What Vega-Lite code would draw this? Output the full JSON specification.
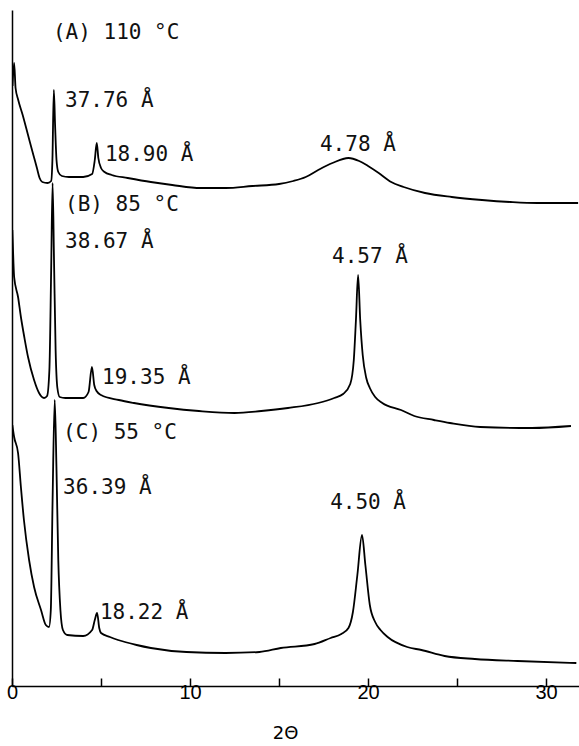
{
  "$schema": "https://vega.github.io/schema/vega-lite/v6.json",
  "width": 567,
  "height": 676,
  "autosize": {"type": "none"},
  "padding": {"left": 12, "top": 10, "right": 0, "bottom": 60},
  "background": "white",
  "config": {"view": {"stroke": null}},
  "datasets": {
    "traces": [
      {"s": "A", "t": 0.03, "y": 600}, {"s": "A", "t": 0.12, "y": 623}, {"s": "A", "t": 0.2, "y": 598}, {"s": "A", "t": 0.35, "y": 586},
      {"s": "A", "t": 0.6, "y": 571}, {"s": "A", "t": 0.9, "y": 551}, {"s": "A", "t": 1.2, "y": 531}, {"s": "A", "t": 1.4, "y": 518},
      {"s": "A", "t": 1.55, "y": 508}, {"s": "A", "t": 1.7, "y": 504}, {"s": "A", "t": 2.0, "y": 503}, {"s": "A", "t": 2.2, "y": 505},
      {"s": "A", "t": 2.27, "y": 526}, {"s": "A", "t": 2.35, "y": 596}, {"s": "A", "t": 2.42, "y": 561}, {"s": "A", "t": 2.5, "y": 526},
      {"s": "A", "t": 2.6, "y": 514}, {"s": "A", "t": 2.8, "y": 510}, {"s": "A", "t": 3.2, "y": 509}, {"s": "A", "t": 4.0, "y": 509},
      {"s": "A", "t": 4.5, "y": 512}, {"s": "A", "t": 4.65, "y": 526}, {"s": "A", "t": 4.76, "y": 543}, {"s": "A", "t": 4.85, "y": 528},
      {"s": "A", "t": 5.0, "y": 518}, {"s": "A", "t": 5.2, "y": 514}, {"s": "A", "t": 5.6, "y": 511}, {"s": "A", "t": 6.5, "y": 508},
      {"s": "A", "t": 7.8, "y": 504}, {"s": "A", "t": 9.0, "y": 501}, {"s": "A", "t": 10.6, "y": 498}, {"s": "A", "t": 12.0, "y": 498},
      {"s": "A", "t": 13.5, "y": 500}, {"s": "A", "t": 15.0, "y": 502}, {"s": "A", "t": 15.8, "y": 505}, {"s": "A", "t": 16.5, "y": 509},
      {"s": "A", "t": 17.2, "y": 516}, {"s": "A", "t": 18.0, "y": 523}, {"s": "A", "t": 18.9, "y": 528}, {"s": "A", "t": 19.5, "y": 525},
      {"s": "A", "t": 20.0, "y": 520}, {"s": "A", "t": 20.6, "y": 513}, {"s": "A", "t": 21.3, "y": 504}, {"s": "A", "t": 22.0, "y": 499},
      {"s": "A", "t": 23.2, "y": 493}, {"s": "A", "t": 24.7, "y": 489}, {"s": "A", "t": 26.4, "y": 486}, {"s": "A", "t": 28.0, "y": 484},
      {"s": "A", "t": 29.5, "y": 483}, {"s": "A", "t": 31.8, "y": 483},

      {"s": "B", "t": 0.02, "y": 456}, {"s": "B", "t": 0.08, "y": 424}, {"s": "B", "t": 0.12, "y": 409}, {"s": "B", "t": 0.34, "y": 389},
      {"s": "B", "t": 0.5, "y": 369}, {"s": "B", "t": 0.7, "y": 348}, {"s": "B", "t": 0.9, "y": 329}, {"s": "B", "t": 1.24, "y": 306},
      {"s": "B", "t": 1.52, "y": 293}, {"s": "B", "t": 1.8, "y": 288}, {"s": "B", "t": 1.97, "y": 290}, {"s": "B", "t": 2.1, "y": 316},
      {"s": "B", "t": 2.2, "y": 416}, {"s": "B", "t": 2.28, "y": 503}, {"s": "B", "t": 2.36, "y": 426}, {"s": "B", "t": 2.45, "y": 336},
      {"s": "B", "t": 2.55, "y": 298}, {"s": "B", "t": 2.68, "y": 289}, {"s": "B", "t": 3.0, "y": 288}, {"s": "B", "t": 4.0, "y": 288},
      {"s": "B", "t": 4.3, "y": 294}, {"s": "B", "t": 4.49, "y": 319}, {"s": "B", "t": 4.62, "y": 301}, {"s": "B", "t": 4.75, "y": 295},
      {"s": "B", "t": 5.0, "y": 291}, {"s": "B", "t": 6.0, "y": 286}, {"s": "B", "t": 6.85, "y": 283}, {"s": "B", "t": 8.8, "y": 278},
      {"s": "B", "t": 10.5, "y": 275}, {"s": "B", "t": 12.5, "y": 273}, {"s": "B", "t": 14.0, "y": 275}, {"s": "B", "t": 15.5, "y": 278},
      {"s": "B", "t": 17.2, "y": 283}, {"s": "B", "t": 18.1, "y": 288}, {"s": "B", "t": 18.6, "y": 292}, {"s": "B", "t": 19.0, "y": 302},
      {"s": "B", "t": 19.2, "y": 326}, {"s": "B", "t": 19.32, "y": 366}, {"s": "B", "t": 19.44, "y": 411}, {"s": "B", "t": 19.56, "y": 366},
      {"s": "B", "t": 19.7, "y": 331}, {"s": "B", "t": 19.9, "y": 308}, {"s": "B", "t": 20.1, "y": 298}, {"s": "B", "t": 20.4, "y": 289},
      {"s": "B", "t": 20.8, "y": 283}, {"s": "B", "t": 21.85, "y": 276}, {"s": "B", "t": 22.6, "y": 270}, {"s": "B", "t": 23.7, "y": 266},
      {"s": "B", "t": 24.6, "y": 263}, {"s": "B", "t": 26.3, "y": 259}, {"s": "B", "t": 29.2, "y": 258}, {"s": "B", "t": 31.4, "y": 260},

      {"s": "C", "t": 0.02, "y": 261}, {"s": "C", "t": 0.12, "y": 249}, {"s": "C", "t": 0.34, "y": 233}, {"s": "C", "t": 0.5, "y": 199},
      {"s": "C", "t": 0.67, "y": 166}, {"s": "C", "t": 0.96, "y": 126}, {"s": "C", "t": 1.24, "y": 99}, {"s": "C", "t": 1.63, "y": 76},
      {"s": "C", "t": 1.9, "y": 61}, {"s": "C", "t": 2.08, "y": 59}, {"s": "C", "t": 2.18, "y": 76}, {"s": "C", "t": 2.28, "y": 186},
      {"s": "C", "t": 2.4, "y": 286}, {"s": "C", "t": 2.5, "y": 216}, {"s": "C", "t": 2.6, "y": 126}, {"s": "C", "t": 2.72, "y": 76},
      {"s": "C", "t": 2.86, "y": 56}, {"s": "C", "t": 3.1, "y": 51}, {"s": "C", "t": 4.0, "y": 50}, {"s": "C", "t": 4.5, "y": 56},
      {"s": "C", "t": 4.65, "y": 66}, {"s": "C", "t": 4.78, "y": 73}, {"s": "C", "t": 4.9, "y": 58}, {"s": "C", "t": 5.0, "y": 53},
      {"s": "C", "t": 5.5, "y": 49}, {"s": "C", "t": 5.96, "y": 46}, {"s": "C", "t": 7.0, "y": 41}, {"s": "C", "t": 7.8, "y": 38},
      {"s": "C", "t": 9.8, "y": 34}, {"s": "C", "t": 12.0, "y": 33}, {"s": "C", "t": 13.9, "y": 34}, {"s": "C", "t": 15.1, "y": 38},
      {"s": "C", "t": 17.0, "y": 42}, {"s": "C", "t": 17.9, "y": 48}, {"s": "C", "t": 18.5, "y": 52}, {"s": "C", "t": 18.9, "y": 58},
      {"s": "C", "t": 19.15, "y": 74}, {"s": "C", "t": 19.4, "y": 111}, {"s": "C", "t": 19.66, "y": 151}, {"s": "C", "t": 19.85, "y": 121},
      {"s": "C", "t": 20.1, "y": 81}, {"s": "C", "t": 20.4, "y": 64}, {"s": "C", "t": 20.7, "y": 56}, {"s": "C", "t": 21.1, "y": 49},
      {"s": "C", "t": 22.2, "y": 39}, {"s": "C", "t": 23.0, "y": 36}, {"s": "C", "t": 24.3, "y": 30}, {"s": "C", "t": 26.0, "y": 27},
      {"s": "C", "t": 28.4, "y": 25}, {"s": "C", "t": 31.7, "y": 23}
    ],
    "labels": [
      {"t": 2.3, "y": 653, "text": "(A) 110 °C"},
      {"t": 2.98, "y": 585, "text": "37.76 Å"},
      {"t": 5.22, "y": 531, "text": "18.90 Å"},
      {"t": 2.98, "y": 481, "text": "(B) 85 °C"},
      {"t": 2.98, "y": 444, "text": "38.67 Å"},
      {"t": 17.3, "y": 541, "text": "4.78 Å"},
      {"t": 17.98, "y": 429, "text": "4.57 Å"},
      {"t": 5.06, "y": 308, "text": "19.35 Å"},
      {"t": 2.87, "y": 253, "text": "(C) 55 °C"},
      {"t": 2.87, "y": 198, "text": "36.39 Å"},
      {"t": 4.94, "y": 73, "text": "18.22 Å"},
      {"t": 17.87, "y": 183, "text": "4.50 Å"}
    ]
  },
  "layer": [
    {
      "data": {"name": "traces"},
      "mark": {"type": "line", "color": "black", "strokeWidth": 1.8, "clip": true, "interpolate": "monotone"},
      "encoding": {
        "x": {
          "field": "t", "type": "quantitative",
          "scale": {"domain": [0, 31.85], "nice": false, "zero": false},
          "axis": {
            "values": [0, 5, 10, 15, 20, 25, 30],
            "labelExpr": "datum.value % 10 == 0 ? datum.label : ''",
            "tickSize": -8, "tickColor": "black", "tickWidth": 1.5,
            "domainColor": "black", "domainWidth": 1.5,
            "labelFont": "Liberation Sans Narrow, Liberation Sans", "labelFontSize": 20, "labelColor": "black",
            "labelPadding": 4, "labelFlush": false, "grid": false,
            "title": "2Θ", "titleFont": "DejaVu Sans", "titleFontSize": 18, "titleFontWeight": "normal",
            "titleColor": "black", "titleX": 273, "titleY": 47, "titleBaseline": "middle"
          }
        },
        "y": {
          "field": "y", "type": "quantitative",
          "scale": {"domain": [0, 676], "nice": false, "zero": false},
          "axis": {"labels": false, "ticks": false, "title": null, "grid": false, "domainColor": "black", "domainWidth": 1.5}
        },
        "detail": {"field": "s", "type": "nominal"}
      }
    },
    {
      "data": {"name": "labels"},
      "mark": {"type": "text", "align": "left", "baseline": "middle", "font": "DejaVu Sans Mono", "fontSize": 21, "color": "#111"},
      "encoding": {
        "x": {"field": "t", "type": "quantitative"},
        "y": {"field": "y", "type": "quantitative"},
        "text": {"field": "text"}
      }
    }
  ]
}
